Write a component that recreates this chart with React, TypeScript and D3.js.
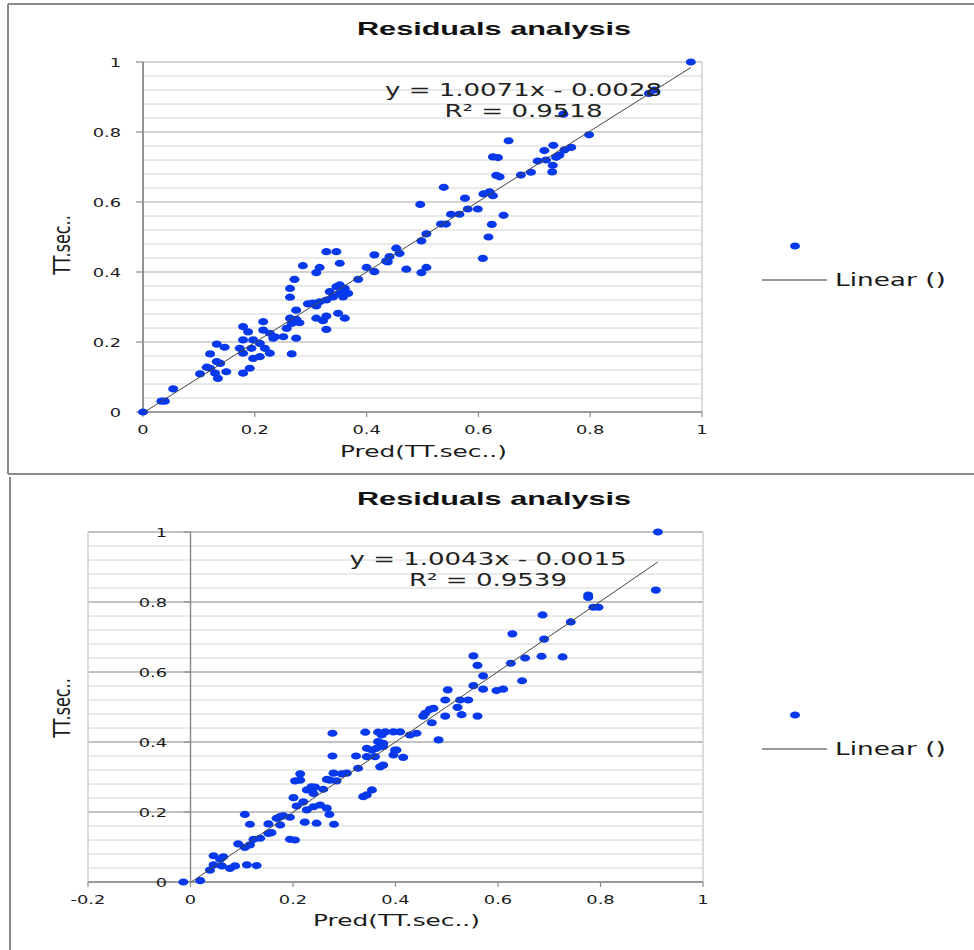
import React from 'react';
import * as d3 from 'd3';

// ---------- DATA ----------
const topPred = [0, 0.033, 0.039, 0.054, 0.102, 0.12, 0.129, 0.134, 0.138, 0.149, 0.132, 0.114, 0.12, 0.132, 0.146, 0.179, 0.188, 0.179, 0.197, 0.173, 0.194, 0.209, 0.179, 0.197, 0.209, 0.179, 0.191, 0.215, 0.215, 0.227, 0.218, 0.227, 0.233, 0.251, 0.236, 0.257, 0.266, 0.263, 0.274, 0.28, 0.266, 0.274, 0.263, 0.263, 0.271, 0.286, 0.274, 0.295, 0.304, 0.316, 0.328, 0.31, 0.334, 0.34, 0.352, 0.346, 0.352, 0.361, 0.367, 0.358, 0.31, 0.322, 0.328, 0.349, 0.361, 0.328, 0.316, 0.31, 0.328, 0.346, 0.352, 0.385, 0.4, 0.414, 0.414, 0.438, 0.441, 0.453, 0.459, 0.435, 0.471, 0.507, 0.498, 0.608, 0.507, 0.498, 0.618, 0.624, 0.645, 0.551, 0.566, 0.542, 0.533, 0.599, 0.581, 0.609, 0.62, 0.626, 0.576, 0.496, 0.538, 0.676, 0.694, 0.632, 0.638, 0.733, 0.732, 0.706, 0.721, 0.745, 0.739, 0.626, 0.635, 0.734, 0.766, 0.754, 0.718, 0.654, 0.798, 0.752, 0.905, 0.915, 0.98];
const topActual = [0, 0.031, 0.031, 0.066, 0.109, 0.125, 0.111, 0.096, 0.139, 0.115, 0.144, 0.128, 0.166, 0.194, 0.185, 0.244, 0.229, 0.206, 0.206, 0.182, 0.182, 0.196, 0.168, 0.153, 0.158, 0.111, 0.125, 0.258, 0.234, 0.225, 0.182, 0.168, 0.211, 0.215, 0.215, 0.239, 0.253, 0.268, 0.265, 0.255, 0.166, 0.211, 0.328, 0.353, 0.379, 0.418, 0.291, 0.309, 0.311, 0.315, 0.32, 0.303, 0.344, 0.329, 0.339, 0.358, 0.363, 0.353, 0.339, 0.329, 0.268, 0.261, 0.274, 0.282, 0.268, 0.236, 0.413, 0.398, 0.458, 0.458, 0.425, 0.379, 0.413, 0.401, 0.449, 0.429, 0.444, 0.468, 0.453, 0.431, 0.408, 0.413, 0.398, 0.439, 0.509, 0.489, 0.5, 0.536, 0.562, 0.565, 0.565, 0.537, 0.537, 0.58, 0.58, 0.623, 0.629, 0.618, 0.611, 0.593, 0.642, 0.677, 0.685, 0.676, 0.672, 0.705, 0.686, 0.717, 0.72, 0.734, 0.728, 0.729, 0.727, 0.762, 0.756, 0.749, 0.747, 0.775, 0.792, 0.851, 0.91, 0.92, 1.0];

const botPred = [-0.014, 0.019, 0.038, 0.045, 0.061, 0.045, 0.064, 0.058, 0.077, 0.087, 0.11, 0.129, 0.093, 0.106, 0.116, 0.123, 0.136, 0.106, 0.116, 0.152, 0.152, 0.158, 0.168, 0.175, 0.181, 0.194, 0.175, 0.194, 0.204, 0.201, 0.207, 0.214, 0.204, 0.214, 0.22, 0.227, 0.24, 0.253, 0.227, 0.236, 0.243, 0.24, 0.223, 0.246, 0.266, 0.271, 0.28, 0.259, 0.266, 0.272, 0.285, 0.279, 0.295, 0.305, 0.277, 0.277, 0.323, 0.327, 0.337, 0.344, 0.354, 0.341, 0.344, 0.354, 0.363, 0.344, 0.36, 0.366, 0.376, 0.366, 0.38, 0.373, 0.37, 0.376, 0.396, 0.402, 0.396, 0.376, 0.399, 0.415, 0.409, 0.428, 0.441, 0.484, 0.471, 0.458, 0.467, 0.474, 0.454, 0.497, 0.529, 0.56, 0.521, 0.502, 0.497, 0.526, 0.542, 0.552, 0.571, 0.597, 0.61, 0.647, 0.571, 0.56, 0.552, 0.653, 0.685, 0.726, 0.625, 0.69, 0.628, 0.687, 0.742, 0.786, 0.796, 0.776, 0.776, 0.908, 0.912];
const botActual = [0, 0.004, 0.034, 0.049, 0.046, 0.075, 0.072, 0.065, 0.039, 0.046, 0.049, 0.047, 0.109, 0.099, 0.106, 0.122, 0.125, 0.193, 0.165, 0.166, 0.139, 0.141, 0.182, 0.187, 0.189, 0.185, 0.163, 0.122, 0.12, 0.241, 0.217, 0.291, 0.289, 0.309, 0.229, 0.206, 0.215, 0.22, 0.263, 0.272, 0.271, 0.253, 0.171, 0.168, 0.211, 0.193, 0.165, 0.265, 0.293, 0.291, 0.289, 0.311, 0.309, 0.311, 0.36, 0.425, 0.36, 0.325, 0.244, 0.249, 0.263, 0.428, 0.382, 0.377, 0.382, 0.358, 0.358, 0.401, 0.396, 0.428, 0.429, 0.42, 0.329, 0.334, 0.363, 0.377, 0.429, 0.387, 0.377, 0.356, 0.429, 0.42, 0.425, 0.406, 0.455, 0.482, 0.493, 0.496, 0.474, 0.474, 0.478, 0.474, 0.499, 0.549, 0.52, 0.52, 0.52, 0.561, 0.551, 0.547, 0.551, 0.575, 0.589, 0.619, 0.646, 0.64, 0.645, 0.643, 0.625, 0.694, 0.709, 0.763, 0.743, 0.785, 0.785, 0.82, 0.813, 0.834, 1.0];

const topFit = { slope: 1.0071, intercept: -0.0028 };
const botFit = { slope: 1.0043, intercept: -0.0015 };
const topEq = 'y = 1.0071x - 0.0028';
const topR2 = 'R² = 0.9518';
const botEq = 'y = 1.0043x - 0.0015';
const botR2 = 'R² = 0.9539';

const chartTitle = 'Residuals analysis';
const xTitle = 'Pred(TT.sec..)';
const yTitle = 'TT.sec..';
const legendLabel = 'Linear ()';

const xTicksTop = [0, 0.2, 0.4, 0.6, 0.8, 1];
const xLabelsTop = ['0', '0.2', '0.4', '0.6', '0.8', '1'];
const xTicksBot = [-0.2, 0, 0.2, 0.4, 0.6, 0.8, 1];
const xLabelsBot = ['-0.2', '0', '0.2', '0.4', '0.6', '0.8', '1'];
const yTicks = [0, 0.2, 0.4, 0.6, 0.8, 1];
const yLabels = ['0', '0.2', '0.4', '0.6', '0.8', '1'];

// ---------- STYLE ----------
const SX = 1.55; // horizontal stretch of the reference picture
const DOT = '#0638ec';
const FONT = '"DejaVu Sans", Verdana, sans-serif';
const TITLE_FONT = '"Liberation Sans", Arial, sans-serif';

function SText({ x, y, anchor = 'start', size = 12, fill = '#1a1a1a', children, weight = 'normal', family = FONT }: any) {
  return (
    <g transform={`translate(${x},${y}) scale(${SX},1)`}>
      <text textAnchor={anchor} fontSize={size} fill={fill} fontFamily={family} fontWeight={weight}>
        {children}
      </text>
    </g>
  );
}

function Panel({ id, pred, actual, fit, eq, r2, L }: any) {
  const x = d3.scaleLinear().domain(L.xDomain).range([L.x0, L.x1]);
  const y = d3.scaleLinear().domain([0, 1]).range([L.y0, L.y1]);
  const minor = d3.range(0, 1.0001, 0.04);
  const xmin = d3.min(pred) as number;
  const xmax = d3.max(pred) as number;
  const line = d3.line<number>().x((d) => x(d)).y((d) => y(fit.slope * d + fit.intercept));
  return (
    <g>
      <defs>
        <clipPath id={`clip-${id}`}>
          <rect x={L.x0} y={L.y1} width={L.x1 - L.x0} height={L.y0 - L.y1} />
        </clipPath>
      </defs>
      {L.frame}
      <text x={494} y={L.titleY} textAnchor="middle" fontFamily={TITLE_FONT} fontWeight="bold" fontSize={19}
        textLength={274} lengthAdjust="spacingAndGlyphs" fill="#111">{chartTitle}</text>
      {minor.map((v: number, i: number) => (
        <line key={'m' + i} x1={L.x0} x2={L.x1} y1={y(v)} y2={y(v)} stroke="#d4d4d4" strokeWidth={1} />
      ))}
      {yTicks.map((v, i) => (
        <line key={'M' + i} x1={L.x0} x2={L.x1} y1={y(v)} y2={y(v)} stroke={L.majorColor} strokeWidth={1} />
      ))}
      <line x1={L.x1} x2={L.x1} y1={L.y1} y2={L.y0} stroke="#cfcfcf" strokeWidth={1.5} />
      <line x1={L.x0} x2={L.x0} y1={L.y1} y2={L.y0} stroke={L.leftColor} strokeWidth={1.5} />
      <line x1={x(0)} x2={x(0)} y1={L.y1} y2={L.y0} stroke="#8c8c8c" strokeWidth={1.5} />
      <line x1={L.x0} x2={L.x1} y1={y(0)} y2={y(0)} stroke="#8c8c8c" strokeWidth={1.5} />
      {yTicks.map((v, i) => (
        <line key={'yt' + i} x1={x(0) - 7} x2={x(0)} y1={y(v)} y2={y(v)} stroke="#8c8c8c" strokeWidth={1.2} />
      ))}
      {yTicks.map((v, i) => (
        <SText key={'yl' + i} x={L.yLabelX} y={y(v) + 4.5} anchor="end" size={11.5}>{yLabels[i]}</SText>
      ))}
      {L.xTicks.map((v: number, i: number) => (
        <line key={'xt' + i} x1={x(v)} x2={x(v)} y1={y(0)} y2={y(0) + 5} stroke="#8c8c8c" strokeWidth={1.2} />
      ))}
      {L.xTicks.map((v: number, i: number) => (
        <SText key={'xl' + i} x={x(v)} y={L.xLabelY} anchor="middle" size={11.5}>{L.xLabels[i]}</SText>
      ))}
      <SText x={(L.x0 + L.x1) / 2 + L.xTitleDx} y={L.xTitleY} anchor="middle" size={16}>{xTitle}</SText>
      <g transform={`translate(70,${L.yTitleY}) scale(${SX * 0.95},1) rotate(-90)`}>
        <text textAnchor="middle" fontSize={16} fontFamily={FONT} fill="#1a1a1a">{yTitle}</text>
      </g>
      {pred.map((p: number, i: number) => (
        <ellipse key={'p' + i} cx={x(p)} cy={y(actual[i])} rx={5} ry={3.6} fill={DOT} />
      ))}
      <path d={line([xmin, xmax]) as string} stroke="#444" strokeWidth={1} fill="none" clipPath={`url(#clip-${id})`} />
      <text x={L.eqX} y={L.eqY} textAnchor="middle" fontFamily={FONT} fontSize={17} fill="#222"
        textLength={277} lengthAdjust="spacingAndGlyphs">{eq}</text>
      <text x={L.eqX} y={L.eqY + 21} textAnchor="middle" fontFamily={FONT} fontSize={17} fill="#222"
        textLength={158} lengthAdjust="spacingAndGlyphs">{r2}</text>
      <ellipse cx={795} cy={L.legY} rx={5} ry={3.6} fill={DOT} />
      <line x1={762} x2={827} y1={L.legY + 34} y2={L.legY + 34} stroke="#333" strokeWidth={1.2} />
      <SText x={835} y={L.legY + 40} size={17}>{legendLabel}</SText>
    </g>
  );
}

export default function App() {
  const topLayout = {
    xDomain: [0, 1], x0: 143, x1: 702, y0: 412, y1: 62,
    titleY: 35, yLabelX: 121, xLabelY: 434, xTicks: xTicksTop, xLabels: xLabelsTop,
    xTitleY: 457, xTitleDx: 1, yTitleY: 245, eqX: 523.5, eqY: 96, legY: 246,
    majorColor: '#bdbdbd', leftColor: '#8c8c8c',
    frame: (
      <g>
        <line x1={8} x2={974} y1={4} y2={4} stroke="#8a8a8a" strokeWidth={2} />
        <line x1={8} x2={8} y1={4} y2={474} stroke="#8a8a8a" strokeWidth={2} />
        <line x1={8} x2={974} y1={474} y2={474} stroke="#8a8a8a" strokeWidth={2} />
      </g>
    ),
  };
  const botLayout = {
    xDomain: [-0.2, 1], x0: 88, x1: 703, y0: 882, y1: 532,
    titleY: 505, yLabelX: 167, xLabelY: 904, xTicks: xTicksBot, xLabels: xLabelsBot,
    xTitleY: 926, xTitleDx: 1, yTitleY: 708, eqX: 488, eqY: 565, legY: 715,
    majorColor: '#9a9a9a', leftColor: '#cfcfcf',
    frame: (
      <g>
        <line x1={10} x2={10} y1={477} y2={950} stroke="#8a8a8a" strokeWidth={2} />
      </g>
    ),
  };
  return (
    <div style={{ position: 'absolute', left: 0, top: 0, width: 974, height: 950, background: '#fff' }}>
      <svg width={974} height={950} style={{ display: 'block' }}>
        <rect width={974} height={950} fill="#fff" />
        <Panel id="top" pred={topPred} actual={topActual} fit={topFit} eq={topEq} r2={topR2} L={topLayout} />
        <Panel id="bot" pred={botPred} actual={botActual} fit={botFit} eq={botEq} r2={botR2} L={botLayout} />
      </svg>
    </div>
  );
}
